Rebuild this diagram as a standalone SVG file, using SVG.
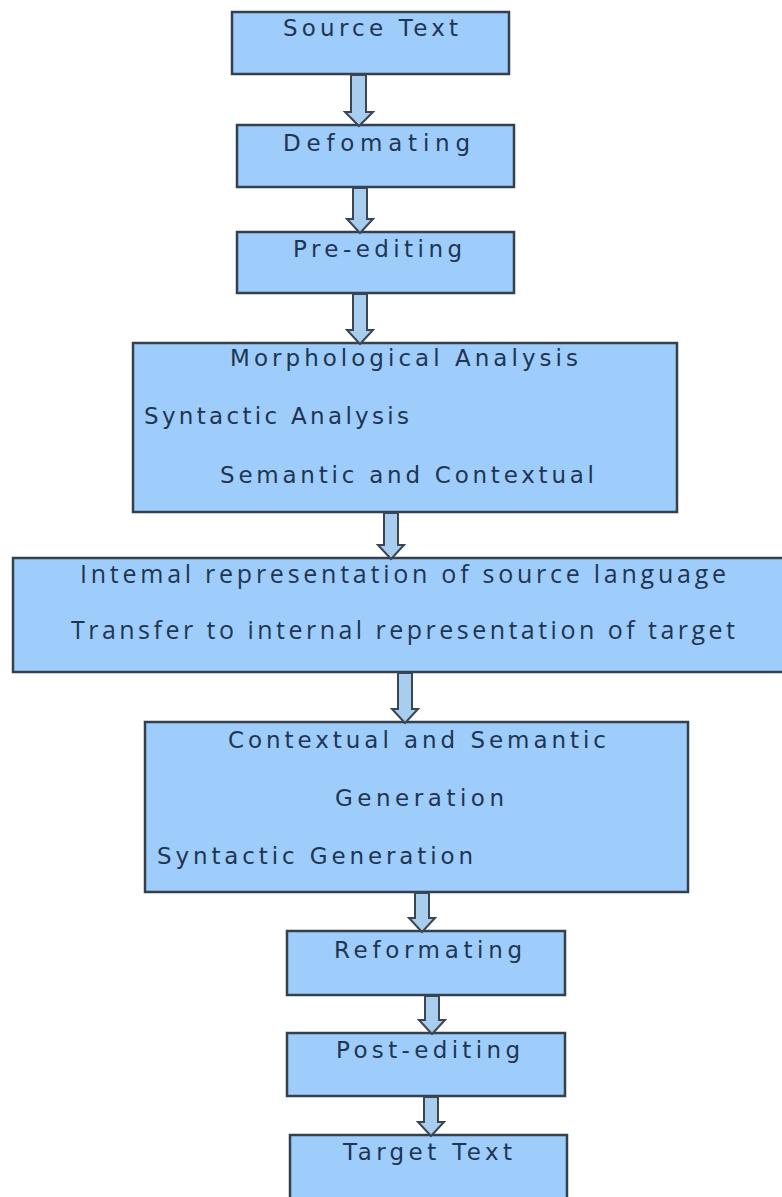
<svg xmlns="http://www.w3.org/2000/svg" width="782" height="1197" viewBox="0 0 782 1197">
<style>
.box{fill:#9ecdfb;stroke:#34404c;stroke-width:2.5}
.t{font-family:"DejaVu Sans",Verdana,sans-serif;font-size:23px;fill:#1f3552}
.o{font-family:"Open Sans","Noto Sans",sans-serif;font-size:25px;fill:#1f3552}
.arr{fill:#a9cdee;stroke:#3b4654;stroke-width:2;stroke-linejoin:miter}
</style>
<rect width="782" height="1197" fill="#ffffff"/>
<g id="n1"><rect class="box" x="232" y="12" width="277" height="62"/><text class="t" x="283" y="36" textLength="175" lengthAdjust="spacing">Source Text</text></g>
<g id="n2"><rect class="box" x="237" y="125" width="277" height="62"/><text class="t" x="283" y="151" textLength="187" lengthAdjust="spacing">Defomating</text></g>
<g id="n3"><rect class="box" x="237" y="232" width="277" height="61"/><text class="t" x="293" y="257" textLength="169" lengthAdjust="spacing">Pre-editing</text></g>
<g id="n4"><rect class="box" x="133" y="343" width="544" height="169"/>
<text class="t" x="230" y="366" textLength="348" lengthAdjust="spacing">Morphological Analysis</text>
<text class="t" x="144" y="424" textLength="265" lengthAdjust="spacing">Syntactic Analysis</text>
<text class="t" x="220" y="483" textLength="374" lengthAdjust="spacing">Semantic and Contextual</text></g>
<g id="n5"><rect class="box" x="13" y="558" width="790" height="114"/>
<text class="o" x="80" y="583" textLength="646" lengthAdjust="spacing">Intemal representation of source language</text>
<text class="o" x="71" y="639" textLength="664" lengthAdjust="spacing">Transfer to internal representation of target</text></g>
<g id="n6"><rect class="box" x="145" y="722" width="543" height="170"/>
<text class="t" x="228" y="748" textLength="378" lengthAdjust="spacing">Contextual and Semantic</text>
<text class="t" x="335" y="806" textLength="169" lengthAdjust="spacing">Generation</text>
<text class="t" x="157" y="864" textLength="316" lengthAdjust="spacing">Syntactic Generation</text></g>
<g id="n7"><rect class="box" x="287" y="931" width="278" height="64"/><text class="t" x="334" y="958" textLength="188" lengthAdjust="spacing">Reformating</text></g>
<g id="n8"><rect class="box" x="287" y="1033" width="278" height="63"/><text class="t" x="336" y="1058" textLength="184" lengthAdjust="spacing">Post-editing</text></g>
<g id="n9"><rect class="box" x="290" y="1135" width="277" height="64"/><text class="t" x="343" y="1160" textLength="169" lengthAdjust="spacing">Target Text</text></g>
<g id="connectors">
<path class="arr" d="M351 75 V112 H345 L359 126 L373 112 H366 V75 Z"/>
<path class="arr" d="M353 188 V219 H347 L360 233 L373 219 H367 V188 Z"/>
<path class="arr" d="M353 294 V330 H347 L360 344 L373 330 H367 V294 Z"/>
<path class="arr" d="M384 513 V545 H378 L391 559 L404 545 H398 V513 Z"/>
<path class="arr" d="M398 673 V709 H392 L405 723 L418 709 H412 V673 Z"/>
<path class="arr" d="M415 893 V918 H409 L422 932 L435 918 H429 V893 Z"/>
<path class="arr" d="M425 996 V1020 H419 L432 1034 L445 1020 H439 V996 Z"/>
<path class="arr" d="M424 1097 V1122 H418 L431 1136 L444 1122 H438 V1097 Z"/>
</g>
</svg>
